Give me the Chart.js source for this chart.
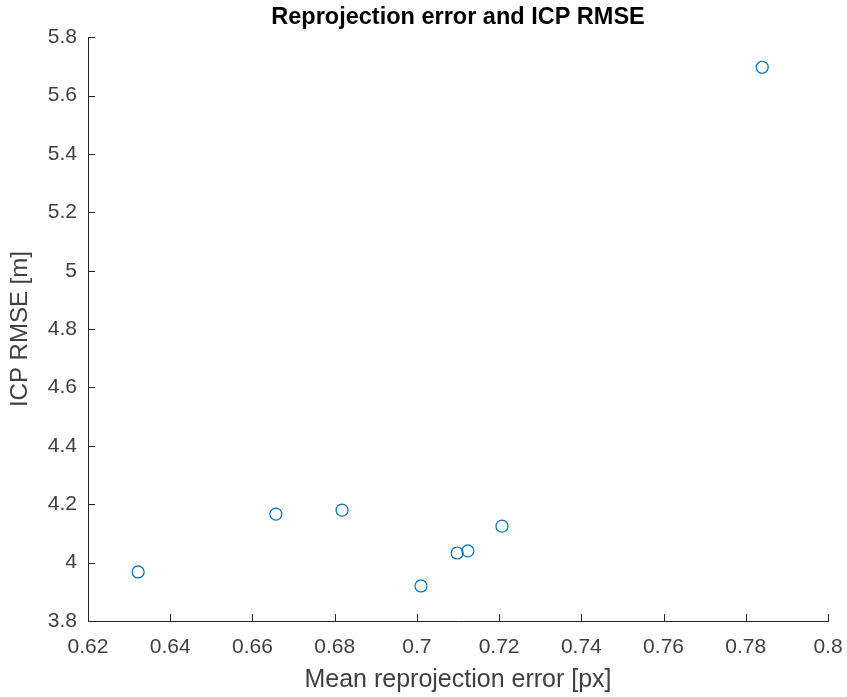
<!DOCTYPE html>
<html>
<head>
<meta charset="utf-8">
<script src="https://cdn.jsdelivr.net/npm/chart.js@4.4.0/dist/chart.umd.min.js"></script>
<style>
  html, body { margin: 0; padding: 0; background: #fff; }
  #wrap { width: 847px; height: 697px; }
</style>
</head>
<body>
<div id="wrap"><canvas id="myChart" width="847" height="697"></canvas></div>
<script>
// values
var meanReprojError = [0.6322, 0.6657, 0.6818, 0.7010, 0.7098, 0.7124, 0.7207, 0.7840];
var icpRmse = [3.968, 4.166, 4.180, 3.920, 4.033, 4.040, 4.125, 5.697];
var xTicks = [0.62, 0.64, 0.66, 0.68, 0.7, 0.72, 0.74, 0.76, 0.78, 0.8];
var yTicks = [3.8, 4, 4.2, 4.4, 4.6, 4.8, 5, 5.2, 5.4, 5.6, 5.8];

var points = [];
for (var i = 0; i < meanReprojError.length; i++) {
  points.push({x: meanReprojError[i], y: icpRmse[i]});
}

var axisColor = '#262626';
var labelColor = '#404040';
var fontName = '"Liberation Sans", Arial, sans-serif';

// matlab style ticks pointing into the axes
var inwardTicks = {
  id: 'inwardTicks',
  afterDatasetsDraw: function(chart) {
    var ctx = chart.ctx;
    var xs = chart.scales.x, ys = chart.scales.y;
    var len = 7;
    ctx.save();
    ctx.strokeStyle = axisColor;
    ctx.lineWidth = 1;
    ctx.beginPath();
    xTicks.forEach(function(v) {
      var px = Math.round(xs.getPixelForValue(v)) + 0.5;
      ctx.moveTo(px, ys.bottom);
      ctx.lineTo(px, ys.bottom - len);
    });
    yTicks.forEach(function(v) {
      var py = Math.round(ys.getPixelForValue(v)) + 0.5;
      ctx.moveTo(xs.left, py);
      ctx.lineTo(xs.left + len, py);
    });
    ctx.stroke();
    ctx.restore();
  }
};

function fmt(v) { return String(+Number(v).toFixed(2)); }

var ctx = document.getElementById('myChart').getContext('2d');
var myChart = new Chart(ctx, {
  type: 'scatter',
  data: {
    datasets: [{
      label: 'ICP RMSE',
      data: points,
      pointStyle: 'circle',
      pointRadius: 6,
      pointHoverRadius: 6,
      borderColor: '#0072BD',
      backgroundColor: 'rgba(0,0,0,0)',
      borderWidth: 1.2
    }]
  },
  options: {
    responsive: false,
    animation: false,
    events: [],
    layout: { padding: { left: 0, right: 19, top: 0, bottom: 0 } },
    plugins: {
      legend: { display: false },
      tooltip: { enabled: false },
      title: {
        display: true,
        text: 'Reprojection error and ICP RMSE',
        color: '#000',
        fullSize: false,
        font: { family: fontName, size: 23.5, weight: 'bold' },
        padding: { top: 3, bottom: 6 }
      }
    },
    scales: {
      x: {
        type: 'linear',
        min: 0.62,
        max: 0.8,
        afterBuildTicks: function(scale) {
          scale.ticks = xTicks.map(function(v) { return {value: v}; });
        },
        afterFit: function(scale) {
          scale.height = 76;
          scale.paddingLeft = 0;
          scale.paddingRight = 0;
        },
        grid: { display: false, drawTicks: false },
        border: { display: true, color: axisColor, width: 1 },
        ticks: {
          color: labelColor,
          padding: 14,
          maxRotation: 0,
          autoSkip: false,
          font: { family: fontName, size: 21 },
          callback: function(v) { return fmt(v); }
        },
        title: {
          display: true,
          text: 'Mean reprojection error [px]',
          color: labelColor,
          font: { family: fontName, size: 25 },
          padding: { top: 0, bottom: 2 }
        }
      },
      y: {
        type: 'linear',
        min: 3.8,
        max: 5.8,
        afterBuildTicks: function(scale) {
          scale.ticks = yTicks.map(function(v) { return {value: v}; });
        },
        afterFit: function(scale) { scale.width = 88; },
        grid: { display: false, drawTicks: false },
        border: { display: true, color: axisColor, width: 1 },
        ticks: {
          color: labelColor,
          padding: 11,
          autoSkip: false,
          font: { family: fontName, size: 21 },
          callback: function(v) { return fmt(v); }
        },
        title: {
          display: true,
          text: 'ICP RMSE [m]',
          color: labelColor,
          font: { family: fontName, size: 24 },
          padding: { top: 6, bottom: 0 }
        }
      }
    }
  },
  plugins: [inwardTicks]
});
</script>
</body>
</html>
